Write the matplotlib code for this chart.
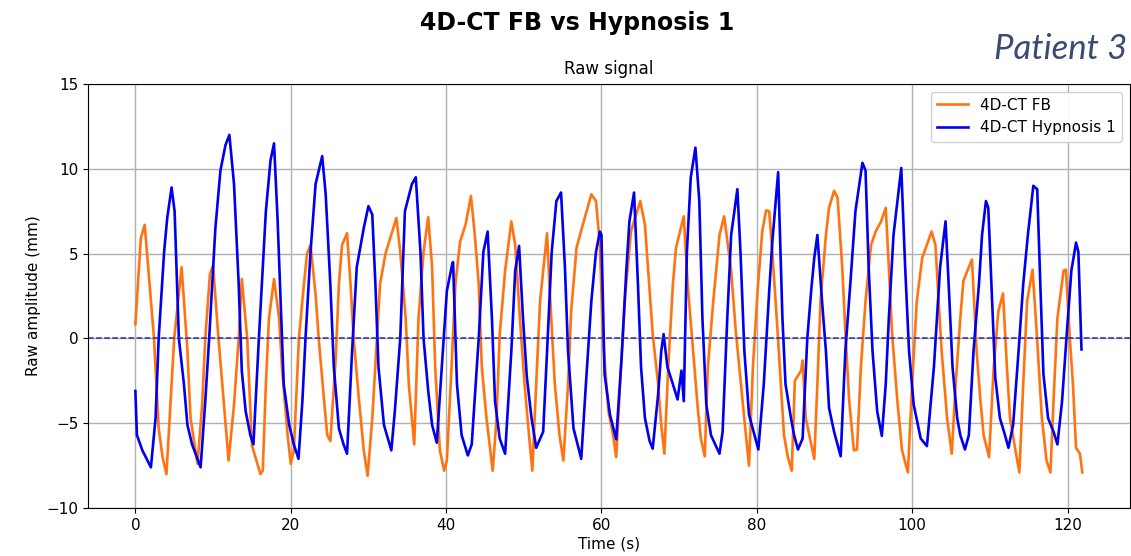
import numpy as np
import matplotlib.pyplot as plt

# 4D-CT FB (orange) - Zeit in s, Amplitude in mm
fb_t = [0.0, 0.7, 1.2, 2.4, 3.0, 3.5, 4.0, 5.0, 5.95, 6.7, 7.1, 8.0, 8.6, 9.0, 9.6, 10.0,
        10.7, 11.4, 12.0, 12.7, 13.3, 13.7, 14.4, 15.0, 16.1, 16.4, 16.8, 17.2, 17.85, 18.5,
        18.9, 19.6, 20.0, 20.4, 21.05, 21.7, 22.1, 22.55, 23.2, 23.6, 24.3, 24.7, 25.1, 25.8,
        26.2, 26.6, 27.25, 27.7, 28.1, 28.8, 29.4, 29.9, 30.5, 31.1, 31.5, 32.2, 32.8, 33.6,
        34.1, 34.8, 35.2, 35.9, 36.45, 37.1, 37.7, 38.2, 38.6, 39.2, 39.75, 40.1, 40.7, 41.2,
        41.8, 42.5, 43.2, 43.7, 44.2, 44.6, 45.2, 46.0, 46.5, 46.9, 47.6, 48.4, 48.9, 49.5,
        50.1, 50.6, 51.1, 51.6, 52.1, 53.0, 53.3, 54.0, 54.6, 55.1, 55.7, 56.1, 56.8, 57.6,
        58.7, 59.3, 59.8, 60.2, 60.9, 61.5, 61.9, 62.4, 63.0, 63.8, 65.0, 65.6, 66.2, 66.6,
        67.3, 67.7, 68.1, 68.6, 69.2, 69.6, 70.6, 71.1, 71.8, 72.4, 72.8, 73.3, 73.7, 74.4,
        75.2, 75.8, 76.7, 77.3, 77.96, 78.6, 79.0, 79.5, 80.1, 80.7, 81.2, 81.6, 82.0, 82.7,
        83.1, 83.5, 84.0, 84.5, 84.9, 85.7, 85.9, 86.3, 87.4, 87.8, 88.2, 88.9, 89.3, 89.95,
        90.4, 91.0, 91.4, 91.9, 92.5, 92.9, 93.4, 94.0, 94.7, 95.3, 96.0, 96.6, 97.0, 97.4,
        98.1, 98.7, 99.45, 100.0, 100.6, 101.3, 102.5, 103.0, 103.5, 103.8, 104.5, 105.1,
        105.6, 106.2, 106.6, 107.3, 107.7, 108.3, 108.8, 109.2, 109.9, 110.5, 111.1, 111.7,
        112.2, 112.6, 113.3, 113.8, 114.3, 114.8, 115.5, 116.05, 116.7, 117.3, 117.8, 118.2,
        118.7, 119.5, 119.8, 120.3, 120.7, 121.1, 121.6, 121.9]
fb_v = [0.83, 5.9, 6.7, 0.0, -5.3, -7.0, -8.0, 0.0, 4.2, -0.7, -4.7, -7.4, -3.9, 0.0, 3.8, 4.3,
        0.0, -3.9, -7.2, -3.9, 0.0, 3.5, 0.0, -6.3, -8.0, -7.8, -2.7, 1.2, 3.5, 1.2,
        -1.9, -5.7, -7.4, -6.6, 0.0, 3.2, 5.0, 5.5, 2.6, 0.0, -3.7, -5.7, -6.05, -1.1,
        3.2, 5.5, 6.2, 3.2, 0.0, -3.7, -6.6, -8.1, -4.7, 0.0, 3.2, 5.0, 5.9, 7.1,
        5.1, 1.2, -2.7, -6.25, 1.2, 5.1, 7.15, 4.2, -1.7, -6.6, -7.8, -7.2, -1.7, 3.2,
        5.7, 6.7, 8.4, 6.1, 3.2, -1.7, -4.7, -7.8, -4.7, 0.2, 4.0, 6.9, 5.5, 1.2,
        -2.7, -5.3, -7.8, -2.7, 2.2, 6.2, 3.2, -2.7, -5.7, -7.2, -2.7, 1.6, 5.35, 6.7,
        8.5, 8.1, 5.5, 0.0, -4.3, -5.7, -7.0, -2.7, 2.2, 6.3, 8.1, 6.7, 2.8, 0.25,
        -2.7, -5.1, -6.8, -1.7, 3.2, 5.35, 7.2, 3.2, -0.75, -4.1, -5.9, -6.95, -1.7, 2.2,
        6.1, 7.2, 4.0, 0.4, -2.7, -5.7, -7.5, -1.7, 2.8, 6.3, 7.55, 7.5, 5.1, 0.25,
        -2.7, -5.7, -7.0, -7.8, -2.5, -1.9, -1.3, -4.7, -7.1, -2.7, 2.2, 6.1, 7.7, 8.7,
        8.3, 4.2, 0.4, -3.7, -6.6, -6.55, -1.7, 2.2, 5.5, 6.3, 6.9, 7.7, 4.2, 0.4,
        -3.7, -6.6, -7.9, -2.7, 2.2, 4.75, 6.3, 5.5, 1.5, -0.75, -4.7, -6.8,
        -2.7, 1.2, 3.4, 4.2, 4.65, -0.75, -3.7, -5.7, -7.0, -1.7, 1.6, 2.65,
        -1.7, -4.7, -6.6, -7.9, -2.7, 2.2, 4.05, 0.25, -4.7, -7.2, -7.9, -3.7,
        1.2, 4.0, 4.05, 0.0, -2.7, -6.45, -6.8, -7.9]

# 4D-CT Hypnosis 1 (blau)
hy_t = [0.0, 0.2, 0.9, 2.0, 2.6, 3.0, 3.7, 4.1, 4.66, 5.05, 5.6, 6.25, 6.7, 7.3, 8.4, 9.0,
        9.5, 10.3, 10.95, 11.6, 12.1, 12.7, 13.3, 13.7, 14.2, 14.8, 15.2, 15.9, 16.8, 17.4,
        17.85, 18.3, 18.7, 19.1, 19.8, 20.4, 21.0, 21.5, 21.9, 22.55, 23.2, 24.05, 24.5, 25.1,
        25.55, 26.2, 26.8, 27.25, 27.9, 28.5, 29.4, 30.0, 30.5, 30.9, 31.3, 32.0, 32.95, 33.4,
        34.1, 34.7, 35.6, 36.1, 36.7, 37.1, 37.7, 38.2, 38.8, 39.45, 40.1, 40.8, 40.9, 41.4,
        42.0, 42.8, 43.3, 44.2, 44.8, 45.35, 45.9, 46.3, 46.9, 47.6, 48.4, 48.9, 49.4, 49.9,
        50.4, 51.0, 51.6, 52.5, 53.0, 53.6, 54.2, 54.8, 55.3, 55.7, 56.4, 57.4, 58.0, 58.7,
        59.3, 59.8, 60.0, 60.4, 61.1, 61.9, 62.6, 63.2, 63.6, 64.2, 64.7, 65.1, 65.6, 66.2,
        66.6, 67.3, 67.7, 68.0, 68.5, 69.2, 69.8, 70.3, 70.6, 71.0, 71.5, 72.1, 72.6, 73.0,
        73.5, 74.1, 75.2, 75.6, 76.2, 76.7, 77.5, 77.9, 78.4, 79.0, 79.7, 80.2, 80.9, 81.6,
        82.0, 82.75, 83.3, 83.7, 84.4, 84.8, 85.3, 85.9, 86.5, 87.0, 87.4, 87.8, 88.4, 88.9,
        89.3, 89.95, 90.8, 91.4, 92.1, 92.7, 93.6, 94.0, 94.4, 94.9, 95.5, 96.1, 96.6, 97.0,
        97.6, 98.6, 99.1, 99.6, 100.2, 101.1, 101.9, 102.8, 103.6, 104.3, 104.7, 105.2,
        105.8, 106.2, 106.8, 107.3, 107.9, 108.6, 109.0, 109.5, 109.8, 110.3, 110.7, 111.3,
        111.95, 112.4, 113.0, 113.7, 114.3, 114.9, 115.6, 116.1, 116.5, 116.9, 117.5, 118.2,
        118.7, 119.3, 119.9, 120.5, 121.1, 121.4, 121.8]
hy_v = [-3.1, -5.7, -6.6, -7.6, -4.7, 0.0, 5.1, 7.1, 8.9, 7.5, 0.0, -2.7, -5.1, -6.25, -7.6, -3.7,
        0.0, 6.5, 9.9, 11.4, 12.0, 9.1, 3.2, -1.9, -4.3, -5.7, -6.25, 0.0, 7.5, 10.5,
        11.5, 7.1, 2.2, -2.7, -5.1, -6.25, -7.1, -3.7, 0.0, 5.1, 9.1, 10.75, 8.5, 3.2,
        -1.7, -5.3, -6.25, -6.8, -0.75, 4.2, 6.5, 7.8, 7.3, 3.2, -1.7, -5.1, -6.6, -4.3,
        0.0, 7.5, 9.1, 9.5, 5.1, 0.0, -3.1, -5.1, -6.15, -1.7, 2.8, 4.4, 4.5, -2.7,
        -5.7, -6.9, -6.25, 0.0, 5.1, 6.3, 1.2, -3.7, -5.9, -6.8, -0.75, 4.0, 5.45, 1.2,
        -2.3, -4.7, -6.45, -5.5, -0.75, 5.1, 8.1, 8.6, 4.2, -0.75, -5.3, -7.1, -2.7, 2.2,
        5.1, 6.3, 6.1, -2.1, -4.5, -5.95, -1.1, 4.0, 6.9, 8.6, 3.2, -1.7, -4.7, -6.05,
        -6.5, -3.3, -0.75, 0.25, -1.7, -2.7, -3.6, -1.9, -3.7, 5.1, 9.5, 11.25, 8.1, 1.2,
        -3.9, -5.7, -6.8, -5.5, 1.2, 6.1, 8.8, 5.1, -0.75, -4.5, -5.7, -6.55, -2.7, 2.8,
        5.7, 9.8, 1.2, -2.7, -4.7, -5.7, -6.55, -5.9, 0.0, 2.8, 4.75, 6.1, 2.2, -0.75,
        -4.1, -5.5, -6.95, -0.75, 3.6, 7.5, 10.35, 9.9, 4.2, -0.75, -4.3, -5.75, -2.7, 1.2,
        6.1, 10.05, 4.2, -0.75, -3.9, -5.9, -6.35, -1.7, 4.2, 6.9, 3.2, -1.7,
        -4.7, -5.7, -6.55, -5.7, -0.75, 3.2, 6.1, 8.1, 7.7, 2.2, -2.3, -4.7,
        -5.7, -6.45, -5.1, -0.75, 3.2, 6.1, 9.0, 8.8, 3.2, -2.1, -4.7, -5.5,
        -6.25, -3.7, 0.25, 4.0, 5.65, 5.1, -0.65]

fig = plt.figure(figsize=(11.31, 5.56), dpi=100)
ax = fig.add_axes([0.0778, 0.0863, 0.921, 0.7626])

ax.plot(fb_t, fb_v, color='#ff7410', lw=1.9, label='4D-CT FB')
ax.plot(hy_t, hy_v, color='#0000ee', lw=1.9, label='4D-CT Hypnosis 1')
ax.axhline(0, color='#2a2ab8', ls='--', lw=1.1)

ax.set_xlim(-6.1, 128.0)
ax.set_ylim(-10, 15)
ax.set_yticks([-10, -5, 0, 5, 10, 15])
ax.grid(True, color='#b0b0b0', lw=1.0)
ax.tick_params(labelsize=11)
ax.set_xlabel("Time (s)", fontsize=11, labelpad=3)
ax.set_ylabel("Raw amplitude (mm)", fontsize=11)
ax.set_title("Raw signal", fontsize=12, pad=7)
ax.legend(loc='upper right', fontsize=11, framealpha=0.9)

fig.text(0.51, 0.958, "4D-CT FB vs Hypnosis 1", ha='center', va='center',
         fontsize=17, fontweight='bold')
fig.text(0.997, 0.912, "Patient 3", ha='right', va='center', fontsize=25,
         style='italic', family='Lato', color='#3b4a72')

plt.savefig('out.png', dpi=100)
